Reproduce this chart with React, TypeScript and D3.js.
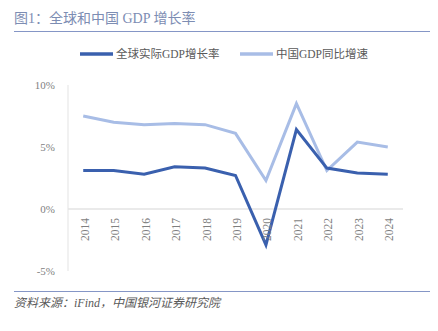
import React from "react";
import * as d3 from "d3";

const years = ["2014","2015","2016","2017","2018","2019","2020","2021","2022","2023","2024"];
const globalGdp = [3.1, 3.1, 2.8, 3.4, 3.3, 2.7, -2.9, 6.4, 3.3, 2.9, 2.8];
const chinaGdp = [7.5, 7.0, 6.8, 6.9, 6.8, 6.1, 2.3, 8.5, 3.1, 5.4, 5.0];
const yTicks = [-5, 0, 5, 10];
const seriesNames = ["全球实际GDP增长率", "中国GDP同比增速"];

const W = 438, H = 331;
const left = 68, right = 403, top = 85, bottom = 271;
const darkBlue = "#3a60ae";
const lightBlue = "#a8bde6";
const font = "'Liberation Serif', 'Noto Sans CJK SC', serif";

export default function App() {
  const x = d3.scaleBand<string>().domain(years).range([left, right]);
  const y = d3.scaleLinear().domain([-5, 10]).range([bottom, top]);
  const cx = (d: string) => (x(d) as number) + x.bandwidth() / 2;
  const line = d3.line<number>().x((_, i) => cx(years[i])).y((v) => y(v));

  return (
    <svg width={W} height={H} style={{ position: "absolute", left: 0, top: 0, background: "#fff" }}>
      <text x={14} y={23} fontSize={14} fill="#7d8db3" fontFamily={font}>图1：全球和中国 GDP 增长率</text>
      <line x1={14} x2={430} y1={31.5} y2={31.5} stroke="#8596c6" strokeWidth={1.2} />

      <g fontFamily={font} fontSize={11.5} fill="#595959">
        <line x1={80} x2={113} y1={54} y2={54} stroke={darkBlue} strokeWidth={3.5} />
        <text x={116} y={58}>{seriesNames[0]}</text>
        <line x1={240} x2={273} y1={54} y2={54} stroke={lightBlue} strokeWidth={3.5} />
        <text x={276} y={58}>{seriesNames[1]}</text>
      </g>

      <line x1={left} x2={left} y1={top} y2={bottom} stroke="#e3e3e3" strokeWidth={1} />
      <line x1={left} x2={right} y1={y(0)} y2={y(0)} stroke="#e3e3e3" strokeWidth={1.5} />

      {yTicks.map((t) => (
        <text key={t} x={55} y={y(t) + 4} textAnchor="end" fontSize={11} fill="#7f7f7f" fontFamily={font}>{t}%</text>
      ))}

      <path d={line(chinaGdp) || ""} fill="none" stroke={lightBlue} strokeWidth={3} strokeLinejoin="miter" />
      <path d={line(globalGdp) || ""} fill="none" stroke={darkBlue} strokeWidth={3} strokeLinejoin="miter" />

      {years.map((yr) => (
        <text key={yr} transform={`translate(${cx(yr) + 5.5},${y(0) + 9}) rotate(-90)`} textAnchor="end" fontSize={11.5} fill="#7f7f7f" fontFamily={font}>{yr}</text>
      ))}

      <line x1={14} x2={430} y1={291.5} y2={291.5} stroke="#8596c6" strokeWidth={1.2} />
      <text x={14} y={307} fontSize={12} fill="#595959" fontStyle="italic" fontFamily={font}>资料来源：iFind，中国银河证券研究院</text>
    </svg>
  );
}
